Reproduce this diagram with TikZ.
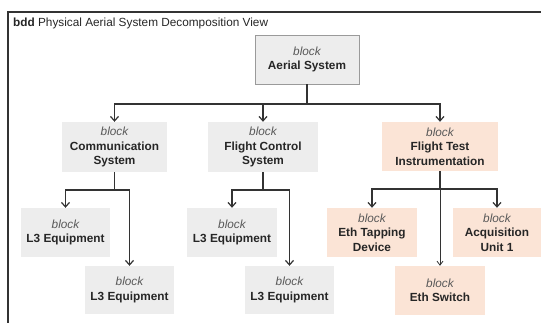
\documentclass[tikz,border=0pt]{standalone}
\usepackage{fontspec}
\setmainfont{Liberation Sans}
\usetikzlibrary{arrows.meta}
\definecolor{grayfill}{HTML}{EDEDED}
\definecolor{peach}{HTML}{FBE4D6}
\definecolor{linec}{HTML}{333333}
\definecolor{bordc}{HTML}{9A9A9A}
\begin{document}
\begin{tikzpicture}[x=1pt,y=-1pt,
  blk/.style={rectangle, inner sep=0pt, align=center, font=\fontsize{11.8}{14.3}\selectfont, text=black!85},
  grayblk/.style={blk, fill=grayfill},
  peachblk/.style={blk, fill=peach},
  conn/.style={draw=linec, line width=1.3pt, -{Straight Barb[length=4.5pt,width=8pt,line width=1.2pt]}},
  thinconn/.style={draw=linec, line width=0.8pt, -{Straight Barb[length=4pt,width=6pt,line width=0.8pt]}},
  frameline/.style={draw=black!80, line width=1.3pt}]
\useasboundingbox (0,0) rectangle (541,323);
% frame
\coordinate (fbl) at (8,323);
\coordinate (ftl) at (8,12);
\coordinate (ftr) at (541,12);
\draw[frameline] (fbl) -- (ftl) -- (ftr);
\node[anchor=base west, inner sep=0pt, font=\fontsize{11.8}{13}\selectfont, text=black!85] (title) at (13,26.5) {\textbf{bdd} Physical Aerial System Decomposition View};
% blocks
\node[grayblk, draw=bordc, line width=0.8pt, minimum width=104pt, minimum height=49pt] (aerial) at (307,59.5) {\textit{\color{black!65}block}\\\textbf{Aerial System}};
\node[grayblk, minimum width=105pt, minimum height=50pt] (comm) at (114.5,147) {\textit{\color{black!65}block}\\\textbf{Communication}\\\textbf{System}};
\node[grayblk, minimum width=110pt, minimum height=50pt] (fcs) at (263,147) {\textit{\color{black!65}block}\\\textbf{Flight Control}\\\textbf{System}};
\node[peachblk, minimum width=116pt, minimum height=49pt] (fti) at (440,146.5) {\textit{\color{black!65}block}\\\textbf{Flight Test}\\\textbf{Instrumentation}};
\node[grayblk, minimum width=89pt, minimum height=49pt] (l3a) at (65.5,232.5) {\textit{\color{black!65}block}\\\textbf{L3 Equipment}};
\node[grayblk, minimum width=89pt, minimum height=48pt] (l3b) at (129.5,290) {\textit{\color{black!65}block}\\\textbf{L3 Equipment}};
\node[grayblk, minimum width=90pt, minimum height=49pt] (l3c) at (232,232.5) {\textit{\color{black!65}block}\\\textbf{L3 Equipment}};
\node[grayblk, minimum width=89pt, minimum height=48pt] (l3d) at (289.5,290) {\textit{\color{black!65}block}\\\textbf{L3 Equipment}};
\node[peachblk, minimum width=90pt, minimum height=49pt] (etd) at (372,232.5) {\textit{\color{black!65}block}\\\textbf{Eth Tapping}\\\textbf{Device}};
\node[peachblk, minimum width=88pt, minimum height=49pt] (acq) at (497,232.5) {\textit{\color{black!65}block}\\\textbf{Acquisition}\\\textbf{Unit 1}};
\node[peachblk, minimum width=90pt, minimum height=49pt] (esw) at (440,290.5) {\textit{\color{black!65}block}\\\textbf{Eth Switch}};
% bus levels
\coordinate (bus1) at (307,104);
\coordinate (bus2) at (0,190);
\coordinate (bus3) at (0,189);
% connectors
\draw[conn] (aerial.south) -- (aerial.south |- bus1) -| (comm.north);
\draw[conn] (aerial.south) -- (aerial.south |- bus1) -| (fcs.north);
\draw[conn] (aerial.south) -- (aerial.south |- bus1) -| (fti.north);
\draw[conn] (comm.south) -- (comm.south |- bus2) -| (l3a.north);
\draw[conn] (comm.south) -- (comm.south |- bus2) -| (l3b.north);
\draw[conn] (fcs.south) -- (fcs.south |- bus2) -| (l3c.north);
\draw[conn] (fcs.south) -- (fcs.south |- bus2) -| (l3d.north);
\draw[thinconn] (fti.south) -- (esw.north);
\draw[conn] (fti.south) -- (fti.south |- bus3) -| (etd.north);
\draw[conn] (fti.south) -- (fti.south |- bus3) -| (acq.north);
\end{tikzpicture}
\end{document}
